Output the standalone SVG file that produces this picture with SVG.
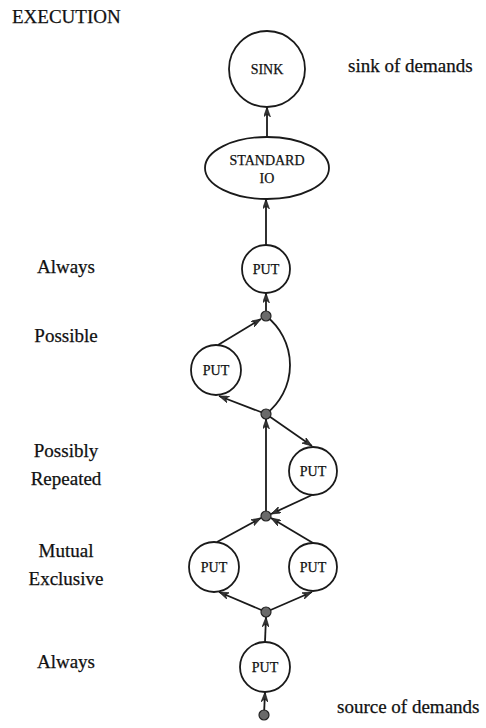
<svg xmlns="http://www.w3.org/2000/svg" width="486" height="728" viewBox="0 0 486 728">
  <style>
    .node { fill: #fff; stroke: #1a1a1a; stroke-width: 1.8; }
    .lbl { font-family: "Liberation Serif", "Times New Roman", serif; font-size: 14px; fill: #111; stroke: #111; stroke-width: 0.25; text-anchor: middle; }
    .side { font-family: "Liberation Serif", "Times New Roman", serif; font-size: 19px; fill: #111; stroke: #111; stroke-width: 0.25; }
    .mid { text-anchor: middle; }
    .edge { fill: none; stroke: #1a1a1a; stroke-width: 1.8; }
    .arr { marker-end: url(#head); }
    .dot { fill: #6a6a6a; stroke: #222; stroke-width: 1.2; }
  </style>
  <defs>
    <marker id="head" viewBox="0 0 10 7" markerWidth="10" markerHeight="7" refX="10" refY="3.5" orient="auto" markerUnits="userSpaceOnUse">
      <path d="M0,0 L10,3.5 L0,7 L3,3.5 Z" fill="#333" stroke="#111" stroke-width="0.6"/>
    </marker>
  </defs>

  <rect width="486" height="728" fill="#fff"/>

  <!-- side labels -->
  <g id="labels">
    <text class="side" x="12" y="23">EXECUTION</text>
    <text class="side" x="348" y="72">sink of demands</text>
    <text class="side" x="337" y="713">source of demands</text>
    <text class="side mid" x="66" y="273">Always</text>
    <text class="side mid" x="66" y="342">Possible</text>
    <text class="side mid" x="66" y="457">Possibly</text>
    <text class="side mid" x="66" y="485">Repeated</text>
    <text class="side mid" x="66" y="557">Mutual</text>
    <text class="side mid" x="66" y="585">Exclusive</text>
    <text class="side mid" x="66" y="668">Always</text>
  </g>

  <!-- connectors -->
  <g id="connectors">
    <line class="edge arr" x1="267" y1="137" x2="267" y2="107"/>
    <line class="edge arr" x1="266" y1="245" x2="266" y2="199"/>
    <line class="edge arr" x1="266" y1="311" x2="266" y2="293"/>
    <line class="edge arr" x1="218" y1="345" x2="261" y2="319"/>
    <path class="edge" d="M266,316 A62,62 0 0 1 266,414"/>
    <line class="edge arr" x1="266" y1="414" x2="219" y2="396"/>
    <line class="edge arr" x1="266" y1="414" x2="312" y2="446"/>
    <line class="edge arr" x1="266" y1="516" x2="266" y2="419"/>
    <line class="edge arr" x1="312" y1="495" x2="271" y2="514"/>
    <line class="edge arr" x1="217" y1="542" x2="261" y2="518"/>
    <line class="edge arr" x1="313" y1="543" x2="271" y2="518"/>
    <line class="edge arr" x1="266" y1="612" x2="219" y2="592"/>
    <line class="edge arr" x1="266" y1="612" x2="312" y2="592"/>
    <line class="edge arr" x1="265" y1="642" x2="266" y2="617"/>
    <line class="edge arr" x1="264" y1="715" x2="265" y2="692"/>
  </g>

  <!-- junction points -->
  <g id="junctions">
    <circle id="j1" class="dot" cx="266" cy="316" r="5"/>
    <circle id="j2" class="dot" cx="266" cy="414" r="5"/>
    <circle id="j3" class="dot" cx="266" cy="516" r="5"/>
    <circle id="j4" class="dot" cx="266" cy="612" r="5"/>
    <circle id="j5" class="dot" cx="264" cy="715" r="5"/>
  </g>

  <g id="sink">
    <circle class="node" cx="267" cy="69" r="38"/>
    <text class="lbl" x="267" y="74">SINK</text>
  </g>
  <g id="standard-io">
    <ellipse class="node" cx="267" cy="168" rx="62" ry="31"/>
    <text class="lbl" x="267" y="165">STANDARD</text>
    <text class="lbl" x="267" y="183">IO</text>
  </g>
  <g id="put-always-top">
    <circle class="node" cx="266" cy="269" r="24"/>
    <text class="lbl" x="266" y="274">PUT</text>
  </g>
  <g id="put-possible">
    <circle class="node" cx="216" cy="370" r="25"/>
    <text class="lbl" x="216" y="375">PUT</text>
  </g>
  <g id="put-repeated">
    <circle class="node" cx="313" cy="471" r="24"/>
    <text class="lbl" x="313" y="476">PUT</text>
  </g>
  <g id="put-exclusive-left">
    <circle class="node" cx="214" cy="567" r="25"/>
    <text class="lbl" x="214" y="572">PUT</text>
  </g>
  <g id="put-exclusive-right">
    <circle class="node" cx="313" cy="567" r="24"/>
    <text class="lbl" x="313" y="572">PUT</text>
  </g>
  <g id="put-always-bottom">
    <circle class="node" cx="265" cy="667" r="25"/>
    <text class="lbl" x="265" y="672">PUT</text>
  </g>
</svg>
